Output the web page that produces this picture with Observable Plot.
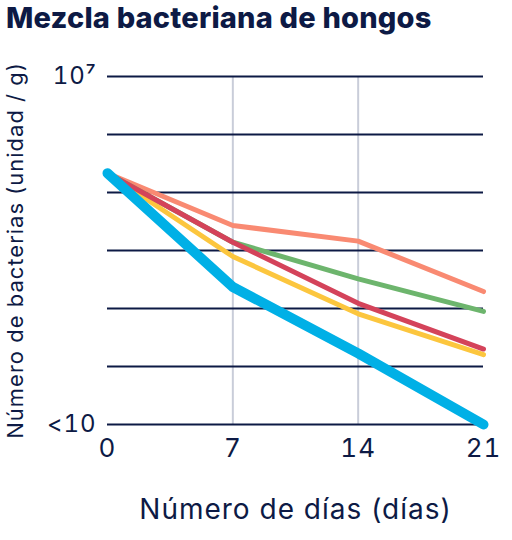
<!DOCTYPE html>
<html>
<head>
<meta charset="utf-8">
<script src="https://cdn.jsdelivr.net/npm/d3@7"></script>
<script src="https://cdn.jsdelivr.net/npm/@observablehq/plot@0.6"></script>
<style>
  html, body { margin: 0; padding: 0; background: #fff; }
  #title { font-family: Inter, "Noto Sans", sans-serif; font-weight: 800; font-size: 29px; color: #0d1a45; padding: 2px 0 0 6px; height: 36px; box-sizing: border-box; line-height: 32px; letter-spacing: 0.2px; }
  #chart svg text { letter-spacing: 1px; }
</style>
</head>
<body>
<div id="title">Mezcla bacteriana de hongos</div>
<div id="chart"></div>
<script>
const days = [0, 7, 14, 21];
const yTicks = [10, 100, 1000, 1e4, 1e5, 1e6, 1e7];
const gridDays = [7, 14];
const seriesNames = ["salmon", "green", "yellow", "red", "blue"];
const salmon = [215000, 27000, 14500, 1960];
const green  = [215000, 13900, 3250, 890];
const yellow = [215000, 7880, 810, 160];
const red    = [215000, 13900, 1230, 200];
const blue   = [215000, 2350, 168, 10];
const xLabel = "Número de días (días)";
const yLabel = "Número de bacterias (unidad / g)";
const colors = {salmon: "#f98a72", green: "#6db56d", yellow: "#fcc63e", red: "#d4435a", blue: "#00b0e6"};
const widths = {salmon: 5, green: 5, yellow: 5, red: 5, blue: 10};
const valuesBy = {salmon, green, yellow, red, blue};

const ink = "#0d1a45";
const lineMarks = seriesNames.map(name =>
  Plot.line(days.map((d, i) => ({day: d, value: valuesBy[name][i]})), {
    x: "day", y: "value", stroke: colors[name], strokeWidth: widths[name],
    strokeLinecap: "round", strokeLinejoin: "round"
  })
);

const chart = Plot.plot({
  width: 512,
  height: 504,
  marginTop: 40,
  marginBottom: 116,
  marginLeft: 107,
  marginRight: 29,
  style: {fontFamily: "Inter, 'Noto Sans', sans-serif", color: ink, background: "#fff"},
  x: {domain: [0, 21]},
  y: {type: "log", domain: [10, 1e7]},
  marks: [
    Plot.ruleX(gridDays, {stroke: "#c9cdd9", strokeWidth: 2, y1: 10, y2: 1e7}),
    Plot.ruleY(yTicks, {stroke: ink, strokeWidth: 2}),
    Plot.axisY(yTicks, {
      tickSize: 0, tickPadding: 11, fontSize: 24,
      tickFormat: d => d === 10 ? "<10" : d === 1e7 ? "10⁷" : "",
      label: null
    }),
    Plot.axisX(days, {
      tickSize: 0, tickPadding: 14, fontSize: 26,
      label: null
    }),
    Plot.text([xLabel], {frameAnchor: "bottom", textAnchor: "middle", dy: 86, lineAnchor: "middle", fontSize: 28, fill: ink}),
    Plot.text([yLabel], {frameAnchor: "left", textAnchor: "middle", dx: -92, dy: 0, rotate: -90, lineAnchor: "middle", fontSize: 22, fill: ink}),
    ...lineMarks
  ]
});
document.getElementById("chart").appendChild(chart);
</script>
</body>
</html>
